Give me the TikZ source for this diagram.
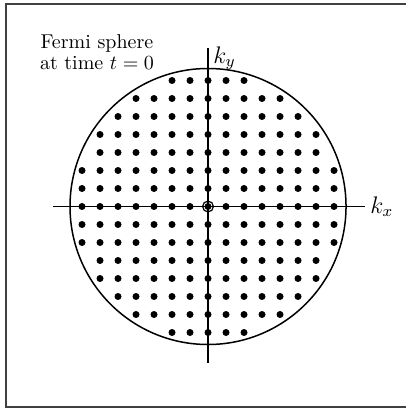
\documentclass[tikz,border=0pt]{standalone}
\usepackage{amsmath}
\usepackage{tikz}
\usetikzlibrary{positioning}

\begin{document}
\begin{tikzpicture}[x=9pt, y=9pt,
    axis/.style={line width=0.9pt},
    kdot/.style={fill=black}]
  \useasboundingbox (-11.556,-11.194) rectangle (11.0,11.472);
  % frame
  \draw[line width=1pt, black!75] (11.0,11.25) -- (-11.22,11.25) -- (-11.22,-11.14) -- (11.0,-11.14);
  % axes
  \coordinate (O) at (0,0);
  \coordinate (xl) at (-8.61,0);
  \coordinate (xr) at (8.72,0);
  \coordinate (yb) at (0,-8.69);
  \coordinate (yt) at (0,8.8);
  \draw[axis] (xl) -- (xr);
  \draw[axis] (yb) -- (yt);
  \node[right=1.5pt of xr, inner sep=1pt, font=\large] (kx) {$k_x$};
  \node[anchor=north west, inner sep=0pt, font=\large] (ky) at ([xshift=2.5pt,yshift=1pt]yt) {$k_y$};
  % Fermi sphere
  \draw[line width=0.75pt] (O) circle (7.667);
  \foreach \i in {-7,...,7}
    \foreach \j in {-7,...,7}{
      \pgfmathtruncatemacro{\rr}{\i*\i+\j*\j}
      \ifnum\rr<57 \fill[kdot] (\i,\j) circle (1.75pt); \fi
    }
  \draw[line width=0.6pt] (O) circle (2.7pt);
  \node[align=center, font={\fontsize{10}{10.5}\selectfont}] (lbl) at (-6.17,8.58)
    {Fermi sphere\\at time $t=0$};
\end{tikzpicture}
\end{document}
